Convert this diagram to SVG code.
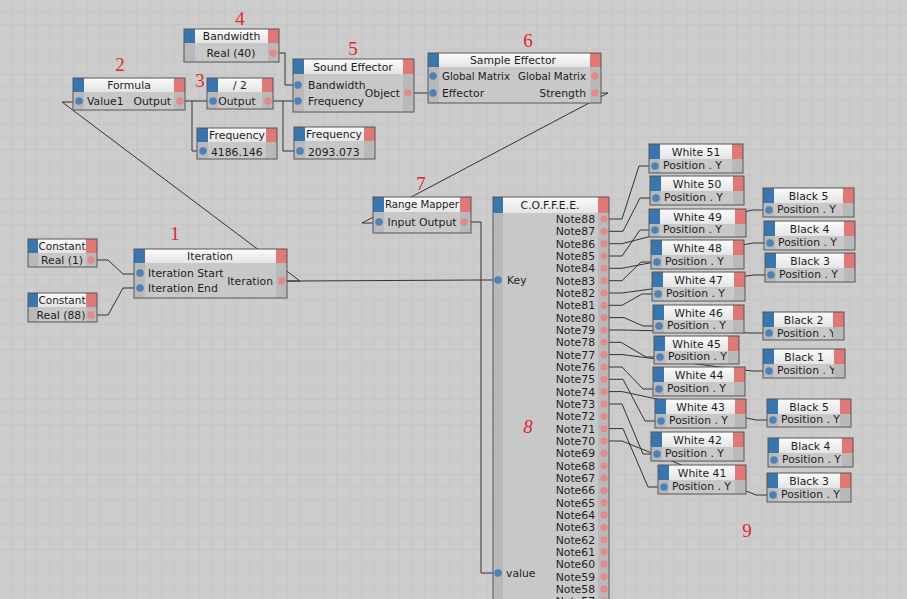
<svg xmlns="http://www.w3.org/2000/svg" width="907" height="599" viewBox="0 0 907 599">
<defs>
<pattern id="grid" width="12.5" height="12.5" patternUnits="userSpaceOnUse">
<rect width="12.5" height="12.5" fill="#cccccc"/>
<path d="M12.5 0V12.5M0 12.5H12.5" stroke="#c1c1c1" stroke-width="1" fill="none"/>
</pattern>
<linearGradient id="tg" x1="0" y1="0" x2="0" y2="1">
<stop offset="0" stop-color="#fbfbfb"/>
<stop offset="1" stop-color="#e4e4e4"/>
</linearGradient>
</defs>
<style>
.fr{fill:#c8c8c8}
.cl{fill:#b9b9b9}
.bl{fill:#3a76ae}
.tt{fill:url(#tg)}
.pk{fill:#e07876}
.ol{fill:none;stroke:#575757;stroke-width:1}
.pi{fill:#4b82b8}
.po{fill:#e38b89}
.tx{font-family:"DejaVu Sans",sans-serif;font-size:10.8px;fill:#1e1e1e}
.m{text-anchor:middle}
.e{text-anchor:end}
.w{fill:none;stroke:#333333;stroke-width:1}
.num{font-family:"Liberation Serif",serif;font-size:19px;fill:#e3262b;text-anchor:middle}
</style>
<rect width="907" height="599" fill="url(#grid)"/>

<g id="connectors">
<path class="w" d="M91,260 H108 L123,274 H140"/>
<path class="w" d="M91,315 H108 L123,288 H140"/>
<path class="w" d="M282,281 H300 L62,102 H79"/>
<path class="w" d="M282,281 H300 L480,280 H498"/>
<path class="w" d="M180,101 H213"/>
<path class="w" d="M192,101 V151 H203"/>
<path class="w" d="M268,101 H298"/>
<path class="w" d="M283,101 V151 H300"/>
<path class="w" d="M273,53 H285 V85 H298"/>
<path class="w" d="M408,93 H433"/>
<path class="w" d="M595,93 H608 L362,223 H379"/>
<path class="w" d="M464,222 H481 V573 H498"/>
<path class="w" d="M604,219 H622 L639,166 H655"/>
<path class="w" d="M604,231.3 H623 L640,198 H656"/>
<path class="w" d="M604,243.7 H622 L752,210 H769"/>
<path class="w" d="M604,256 H622 L640,230 H655"/>
<path class="w" d="M604,268.3 H622 L753,243 H770"/>
<path class="w" d="M604,280.7 H622 L641,262 H657"/>
<path class="w" d="M604,293 H622 L754,275 H771"/>
<path class="w" d="M604,305.3 H622 L642,294 H658"/>
<path class="w" d="M604,317.6 H624 L643,326 H659"/>
<path class="w" d="M604,330 H622 L752,333 H769"/>
<path class="w" d="M604,342.3 H621 L646,357 H660"/>
<path class="w" d="M604,354.6 H622 L752,371 H769"/>
<path class="w" d="M604,367 H622 L643,389 H659"/>
<path class="w" d="M604,379.3 H623 L645,421 H661"/>
<path class="w" d="M604,391.6 H622 L756,420 H773"/>
<path class="w" d="M604,404 H622 L643,454 H657"/>
<path class="w" d="M604,428.6 H623 L648,487 H664"/>
<path class="w" d="M604,441 H622 L756,495 H773"/>
</g>

<g id="bandwidth">
<rect class="fr" x="184" y="29" width="95" height="33"/>
<rect class="cl" x="184" y="43" width="11" height="19"/>
<rect class="cl" x="268" y="43" width="11" height="19"/>
<rect class="bl" x="184" y="29" width="11" height="14"/>
<rect class="tt" x="195" y="29" width="73" height="14"/>
<rect class="pk" x="268" y="29" width="11" height="14"/>
<text class="tx m" x="231.5" y="40">Bandwidth</text>
<text class="tx m" x="231" y="57">Real (40)</text>
<circle class="po" cx="273" cy="53" r="3.8"/>
<rect class="ol" x="184" y="29" width="95" height="33"/>
</g>

<g id="formula">
<rect class="fr" x="73" y="78" width="112" height="32"/>
<rect class="cl" x="73" y="92" width="11" height="18"/>
<text class="tx" x="87" y="105">Value1</text>
<text class="tx e" x="171" y="105">Output</text>
<rect class="cl" x="174" y="92" width="11" height="18"/>
<rect class="bl" x="73" y="78" width="11" height="14"/>
<rect class="tt" x="84" y="78" width="90" height="14"/>
<rect class="pk" x="174" y="78" width="11" height="14"/>
<text class="tx m" x="129" y="89">Formula</text>
<circle class="pi" cx="79" cy="101" r="3.8"/>
<circle class="po" cx="180" cy="101" r="3.8"/>
<rect class="ol" x="73" y="78" width="112" height="32"/>
</g>

<g id="div2">
<rect class="fr" x="207" y="78" width="66" height="31"/>
<rect class="cl" x="207" y="92" width="11" height="17"/>
<text class="tx m" x="237" y="105">Output</text>
<rect class="cl" x="262" y="92" width="11" height="17"/>
<rect class="bl" x="207" y="78" width="11" height="14"/>
<rect class="tt" x="218" y="78" width="44" height="14"/>
<rect class="pk" x="262" y="78" width="11" height="14"/>
<text class="tx m" x="240" y="89">/ 2</text>
<circle class="pi" cx="213" cy="101" r="3.8"/>
<circle class="po" cx="268" cy="101" r="3.8"/>
<rect class="ol" x="207" y="78" width="66" height="31"/>
</g>

<g id="sound-effector">
<rect class="fr" x="293" y="59" width="121" height="53"/>
<rect class="cl" x="293" y="74" width="11" height="38"/>
<text class="tx" x="308" y="89">Bandwidth</text>
<text class="tx" x="308" y="105">Frequency</text>
<text class="tx e" x="400" y="97">Object</text>
<rect class="cl" x="403" y="74" width="11" height="38"/>
<rect class="bl" x="293" y="59" width="11" height="15"/>
<rect class="tt" x="304" y="59" width="99" height="15"/>
<rect class="pk" x="403" y="59" width="11" height="15"/>
<text class="tx m" x="353" y="71">Sound Effector</text>
<circle class="pi" cx="298" cy="85" r="3.8"/>
<circle class="pi" cx="298" cy="101" r="3.8"/>
<circle class="po" cx="408" cy="93" r="3.8"/>
<rect class="ol" x="293" y="59" width="121" height="53"/>
</g>

<g id="sample-effector">
<rect class="fr" x="428" y="53" width="173" height="50"/>
<rect class="cl" x="428" y="67" width="11" height="36"/>
<text class="tx" x="442" y="80" textLength="68" lengthAdjust="spacingAndGlyphs">Global Matrix</text>
<text class="tx e" x="586" y="80" textLength="68" lengthAdjust="spacingAndGlyphs">Global Matrix</text>
<text class="tx" x="442" y="97">Effector</text>
<text class="tx e" x="586" y="97">Strength</text>
<rect class="cl" x="590" y="67" width="11" height="36"/>
<rect class="bl" x="428" y="53" width="11" height="14"/>
<rect class="tt" x="439" y="53" width="151" height="14"/>
<rect class="pk" x="590" y="53" width="11" height="14"/>
<text class="tx m" x="513" y="64">Sample Effector</text>
<circle class="pi" cx="433" cy="76" r="3.8"/>
<circle class="pi" cx="433" cy="93" r="3.8"/>
<circle class="po" cx="595" cy="76" r="3.8"/>
<circle class="po" cx="595" cy="93" r="3.8"/>
<rect class="ol" x="428" y="53" width="173" height="50"/>
</g>

<g id="frequency-1">
<rect class="fr" x="197" y="128" width="80" height="31"/>
<rect class="cl" x="197" y="142" width="11" height="17"/>
<text class="tx" x="211" y="156">4186.146</text>
<rect class="cl" x="266" y="142" width="11" height="17"/>
<rect class="bl" x="197" y="128" width="11" height="14"/>
<rect class="tt" x="208" y="128" width="58" height="14"/>
<rect class="pk" x="266" y="128" width="11" height="14"/>
<text class="tx m" x="237" y="139">Frequency</text>
<circle class="pi" cx="203" cy="151" r="3.8"/>
<rect class="ol" x="197" y="128" width="80" height="31"/>
</g>

<g id="frequency-2">
<rect class="fr" x="294" y="127" width="81" height="32"/>
<rect class="cl" x="294" y="141" width="11" height="18"/>
<text class="tx" x="308" y="156">2093.073</text>
<rect class="cl" x="364" y="141" width="11" height="18"/>
<rect class="bl" x="294" y="127" width="11" height="14"/>
<rect class="tt" x="305" y="127" width="59" height="14"/>
<rect class="pk" x="364" y="127" width="11" height="14"/>
<text class="tx m" x="334" y="138">Frequency</text>
<circle class="pi" cx="300" cy="151" r="3.8"/>
<rect class="ol" x="294" y="127" width="81" height="32"/>
</g>

<g id="constant-1">
<rect class="fr" x="28" y="239" width="69" height="28"/>
<rect class="cl" x="28" y="253" width="10" height="14"/>
<text class="tx m" x="62" y="264">Real (1)</text>
<rect class="cl" x="86" y="253" width="11" height="14"/>
<rect class="bl" x="28" y="239" width="10" height="14"/>
<rect class="tt" x="38" y="239" width="48" height="14"/>
<rect class="pk" x="86" y="239" width="11" height="14"/>
<text class="tx m" x="62" y="250" textLength="47" lengthAdjust="spacingAndGlyphs">Constant</text>
<circle class="po" cx="91" cy="260" r="3.8"/>
<rect class="ol" x="28" y="239" width="69" height="28"/>
</g>

<g id="constant-2">
<rect class="fr" x="28" y="293" width="69" height="29"/>
<rect class="cl" x="28" y="307" width="10" height="15"/>
<text class="tx m" x="61" y="319">Real (88)</text>
<rect class="cl" x="86" y="307" width="11" height="15"/>
<rect class="bl" x="28" y="293" width="10" height="14"/>
<rect class="tt" x="38" y="293" width="48" height="14"/>
<rect class="pk" x="86" y="293" width="11" height="14"/>
<text class="tx m" x="62" y="304" textLength="47" lengthAdjust="spacingAndGlyphs">Constant</text>
<circle class="po" cx="91" cy="315" r="3.8"/>
<rect class="ol" x="28" y="293" width="69" height="29"/>
</g>

<g id="iteration">
<rect class="fr" x="134" y="249" width="153" height="49"/>
<rect class="cl" x="134" y="263" width="11" height="35"/>
<text class="tx" x="148" y="277">Iteration Start</text>
<text class="tx" x="148" y="292">Iteration End</text>
<text class="tx e" x="273" y="285">Iteration</text>
<rect class="cl" x="276" y="263" width="11" height="35"/>
<rect class="bl" x="134" y="249" width="11" height="14"/>
<rect class="tt" x="145" y="249" width="131" height="14"/>
<rect class="pk" x="276" y="249" width="11" height="14"/>
<text class="tx m" x="210" y="260">Iteration</text>
<circle class="pi" cx="140" cy="273" r="3.8"/>
<circle class="pi" cx="140" cy="288" r="3.8"/>
<circle class="po" cx="282" cy="281" r="3.8"/>
<rect class="ol" x="134" y="249" width="153" height="49"/>
</g>

<g id="range-mapper">
<rect class="fr" x="373" y="197" width="98" height="36"/>
<rect class="cl" x="373" y="212" width="11" height="21"/>
<text class="tx m" x="422" y="226" textLength="69" lengthAdjust="spacingAndGlyphs">Input Output</text>
<rect class="cl" x="460" y="212" width="11" height="21"/>
<rect class="bl" x="373" y="197" width="11" height="15"/>
<rect class="tt" x="384" y="197" width="76" height="15"/>
<rect class="pk" x="460" y="197" width="11" height="15"/>
<text class="tx m" x="422" y="208" textLength="74" lengthAdjust="spacingAndGlyphs">Range Mapper</text>
<circle class="pi" cx="379" cy="222" r="3.8"/>
<circle class="po" cx="464" cy="222" r="3.8"/>
<rect class="ol" x="373" y="197" width="98" height="36"/>
</g>

<g id="coffee">
<rect class="fr" x="493" y="197" width="116" height="420"/>
<rect class="cl" x="493" y="213" width="10" height="404"/>
<text class="tx" x="507" y="284">Key</text>
<text class="tx" x="506" y="577">value</text>
<g class="tx e">
<text x="595" y="223">Note88</text>
<text x="595" y="235.3">Note87</text>
<text x="595" y="247.7">Note86</text>
<text x="595" y="260">Note85</text>
<text x="595" y="272.3">Note84</text>
<text x="595" y="284.7">Note83</text>
<text x="595" y="297">Note82</text>
<text x="595" y="309.3">Note81</text>
<text x="595" y="321.6">Note80</text>
<text x="595" y="334">Note79</text>
<text x="595" y="346.3">Note78</text>
<text x="595" y="358.6">Note77</text>
<text x="595" y="371">Note76</text>
<text x="595" y="383.3">Note75</text>
<text x="595" y="395.6">Note74</text>
<text x="595" y="408">Note73</text>
<text x="595" y="420.3">Note72</text>
<text x="595" y="432.6">Note71</text>
<text x="595" y="445">Note70</text>
<text x="595" y="457.3">Note69</text>
<text x="595" y="469.6">Note68</text>
<text x="595" y="481.9">Note67</text>
<text x="595" y="494.3">Note66</text>
<text x="595" y="506.6">Note65</text>
<text x="595" y="518.9">Note64</text>
<text x="595" y="531.3">Note63</text>
<text x="595" y="543.6">Note62</text>
<text x="595" y="555.9">Note61</text>
<text x="595" y="568.2">Note60</text>
<text x="595" y="580.6">Note59</text>
<text x="595" y="592.9">Note58</text>
<text x="595" y="605.2">Note57</text>
</g>
<rect class="cl" x="598" y="213" width="11" height="404"/>
<rect class="bl" x="493" y="197" width="10" height="16"/>
<rect class="tt" x="503" y="197" width="95" height="16"/>
<rect class="pk" x="598" y="197" width="11" height="16"/>
<text class="tx m" x="550" y="209">C.O.F.F.E.E.</text>
<circle class="pi" cx="498" cy="280" r="3.8"/>
<circle class="pi" cx="498" cy="573" r="3.8"/>
<g class="po">
<circle cx="604" cy="219" r="3.6"/>
<circle cx="604" cy="231.3" r="3.6"/>
<circle cx="604" cy="243.7" r="3.6"/>
<circle cx="604" cy="256" r="3.6"/>
<circle cx="604" cy="268.3" r="3.6"/>
<circle cx="604" cy="280.7" r="3.6"/>
<circle cx="604" cy="293" r="3.6"/>
<circle cx="604" cy="305.3" r="3.6"/>
<circle cx="604" cy="317.6" r="3.6"/>
<circle cx="604" cy="330" r="3.6"/>
<circle cx="604" cy="342.3" r="3.6"/>
<circle cx="604" cy="354.6" r="3.6"/>
<circle cx="604" cy="367" r="3.6"/>
<circle cx="604" cy="379.3" r="3.6"/>
<circle cx="604" cy="391.6" r="3.6"/>
<circle cx="604" cy="404" r="3.6"/>
<circle cx="604" cy="416.3" r="3.6"/>
<circle cx="604" cy="428.6" r="3.6"/>
<circle cx="604" cy="441" r="3.6"/>
<circle cx="604" cy="453.3" r="3.6"/>
<circle cx="604" cy="465.6" r="3.6"/>
<circle cx="604" cy="477.9" r="3.6"/>
<circle cx="604" cy="490.3" r="3.6"/>
<circle cx="604" cy="502.6" r="3.6"/>
<circle cx="604" cy="514.9" r="3.6"/>
<circle cx="604" cy="527.3" r="3.6"/>
<circle cx="604" cy="539.6" r="3.6"/>
<circle cx="604" cy="551.9" r="3.6"/>
<circle cx="604" cy="564.2" r="3.6"/>
<circle cx="604" cy="576.6" r="3.6"/>
<circle cx="604" cy="588.9" r="3.6"/>
<circle cx="604" cy="601.2" r="3.6"/>
</g>
<rect class="ol" x="493" y="197" width="116" height="420"/>
</g>

<g id="white-51">
<rect class="fr" x="649" y="144" width="94" height="29"/>
<rect class="cl" x="649" y="159" width="11" height="14"/>
<text class="tx" x="663" y="169">Position . Y</text>
<rect class="cl" x="732" y="159" width="11" height="14"/>
<rect class="bl" x="649" y="144" width="11" height="15"/>
<rect class="tt" x="660" y="144" width="72" height="15"/>
<rect class="pk" x="732" y="144" width="11" height="15"/>
<text class="tx m" x="696" y="156">White 51</text>
<circle class="pi" cx="655" cy="166" r="3.8"/>
<rect class="ol" x="649" y="144" width="94" height="29"/>
</g>

<g id="white-50">
<rect class="fr" x="650" y="176" width="94" height="29"/>
<rect class="cl" x="650" y="191" width="11" height="14"/>
<text class="tx" x="664" y="201">Position . Y</text>
<rect class="cl" x="733" y="191" width="11" height="14"/>
<rect class="bl" x="650" y="176" width="11" height="15"/>
<rect class="tt" x="661" y="176" width="72" height="15"/>
<rect class="pk" x="733" y="176" width="11" height="15"/>
<text class="tx m" x="697" y="188">White 50</text>
<circle class="pi" cx="656" cy="198" r="3.8"/>
<rect class="ol" x="650" y="176" width="94" height="29"/>
</g>

<g id="white-49">
<rect class="fr" x="649" y="209" width="97" height="28"/>
<rect class="cl" x="649" y="224" width="11" height="13"/>
<text class="tx" x="663" y="233">Position . Y</text>
<rect class="cl" x="735" y="224" width="11" height="13"/>
<rect class="bl" x="649" y="209" width="11" height="15"/>
<rect class="tt" x="660" y="209" width="75" height="15"/>
<rect class="pk" x="735" y="209" width="11" height="15"/>
<text class="tx m" x="697.5" y="221">White 49</text>
<circle class="pi" cx="655" cy="230" r="3.8"/>
<rect class="ol" x="649" y="209" width="97" height="28"/>
</g>

<g id="white-48">
<rect class="fr" x="651" y="240" width="93" height="29"/>
<rect class="cl" x="651" y="255" width="11" height="14"/>
<text class="tx" x="665" y="265">Position . Y</text>
<rect class="cl" x="733" y="255" width="11" height="14"/>
<rect class="bl" x="651" y="240" width="11" height="15"/>
<rect class="tt" x="662" y="240" width="71" height="15"/>
<rect class="pk" x="733" y="240" width="11" height="15"/>
<text class="tx m" x="697.5" y="252">White 48</text>
<circle class="pi" cx="657" cy="262" r="3.8"/>
<rect class="ol" x="651" y="240" width="93" height="29"/>
</g>

<g id="white-47">
<rect class="fr" x="652" y="272" width="93" height="29"/>
<rect class="cl" x="652" y="287" width="11" height="14"/>
<text class="tx" x="666" y="297">Position . Y</text>
<rect class="cl" x="734" y="287" width="11" height="14"/>
<rect class="bl" x="652" y="272" width="11" height="15"/>
<rect class="tt" x="663" y="272" width="71" height="15"/>
<rect class="pk" x="734" y="272" width="11" height="15"/>
<text class="tx m" x="698.5" y="284">White 47</text>
<circle class="pi" cx="658" cy="294" r="3.8"/>
<rect class="ol" x="652" y="272" width="93" height="29"/>
</g>

<g id="white-46">
<rect class="fr" x="653" y="305" width="91" height="28"/>
<rect class="cl" x="653" y="320" width="11" height="13"/>
<text class="tx" x="667" y="329">Position . Y</text>
<rect class="cl" x="733" y="320" width="11" height="13"/>
<rect class="bl" x="653" y="305" width="11" height="15"/>
<rect class="tt" x="664" y="305" width="69" height="15"/>
<rect class="pk" x="733" y="305" width="11" height="15"/>
<text class="tx m" x="698.5" y="317">White 46</text>
<circle class="pi" cx="659" cy="326" r="3.8"/>
<rect class="ol" x="653" y="305" width="91" height="28"/>
</g>

<g id="white-45">
<rect class="fr" x="654" y="336" width="85" height="28"/>
<rect class="cl" x="654" y="351" width="11" height="13"/>
<text class="tx" x="668" y="360">Position . Y</text>
<rect class="cl" x="728" y="351" width="11" height="13"/>
<rect class="bl" x="654" y="336" width="11" height="15"/>
<rect class="tt" x="665" y="336" width="63" height="15"/>
<rect class="pk" x="728" y="336" width="11" height="15"/>
<text class="tx m" x="696.5" y="348">White 45</text>
<circle class="pi" cx="660" cy="357" r="3.8"/>
<rect class="ol" x="654" y="336" width="85" height="28"/>
</g>

<g id="white-44">
<rect class="fr" x="653" y="367" width="92" height="29"/>
<rect class="cl" x="653" y="382" width="11" height="14"/>
<text class="tx" x="667" y="392">Position . Y</text>
<rect class="cl" x="734" y="382" width="11" height="14"/>
<rect class="bl" x="653" y="367" width="11" height="15"/>
<rect class="tt" x="664" y="367" width="70" height="15"/>
<rect class="pk" x="734" y="367" width="11" height="15"/>
<text class="tx m" x="699" y="379">White 44</text>
<circle class="pi" cx="659" cy="389" r="3.8"/>
<rect class="ol" x="653" y="367" width="92" height="29"/>
</g>

<g id="white-43">
<rect class="fr" x="655" y="399" width="91" height="29"/>
<rect class="cl" x="655" y="414" width="11" height="14"/>
<text class="tx" x="669" y="424">Position . Y</text>
<rect class="cl" x="735" y="414" width="11" height="14"/>
<rect class="bl" x="655" y="399" width="11" height="15"/>
<rect class="tt" x="666" y="399" width="69" height="15"/>
<rect class="pk" x="735" y="399" width="11" height="15"/>
<text class="tx m" x="700.5" y="411">White 43</text>
<circle class="pi" cx="661" cy="421" r="3.8"/>
<rect class="ol" x="655" y="399" width="91" height="29"/>
</g>

<g id="white-42">
<rect class="fr" x="651" y="432" width="93" height="29"/>
<rect class="cl" x="651" y="447" width="11" height="14"/>
<text class="tx" x="665" y="457">Position . Y</text>
<rect class="cl" x="733" y="447" width="11" height="14"/>
<rect class="bl" x="651" y="432" width="11" height="15"/>
<rect class="tt" x="662" y="432" width="71" height="15"/>
<rect class="pk" x="733" y="432" width="11" height="15"/>
<text class="tx m" x="697.5" y="444">White 42</text>
<circle class="pi" cx="657" cy="454" r="3.8"/>
<rect class="ol" x="651" y="432" width="93" height="29"/>
</g>

<g id="white-41">
<rect class="fr" x="658" y="465" width="88" height="29"/>
<rect class="cl" x="658" y="480" width="11" height="14"/>
<text class="tx" x="672" y="490">Position . Y</text>
<rect class="cl" x="735" y="480" width="11" height="14"/>
<rect class="bl" x="658" y="465" width="11" height="15"/>
<rect class="tt" x="669" y="465" width="66" height="15"/>
<rect class="pk" x="735" y="465" width="11" height="15"/>
<text class="tx m" x="702" y="477">White 41</text>
<circle class="pi" cx="664" cy="487" r="3.8"/>
<rect class="ol" x="658" y="465" width="88" height="29"/>
</g>

<g id="black-5a">
<rect class="fr" x="763" y="188" width="91" height="29"/>
<rect class="cl" x="763" y="203" width="11" height="14"/>
<text class="tx" x="777" y="213">Position . Y</text>
<rect class="cl" x="843" y="203" width="11" height="14"/>
<rect class="bl" x="763" y="188" width="11" height="15"/>
<rect class="tt" x="774" y="188" width="69" height="15"/>
<rect class="pk" x="843" y="188" width="11" height="15"/>
<text class="tx m" x="808.5" y="200">Black 5</text>
<circle class="pi" cx="769" cy="210" r="3.8"/>
<rect class="ol" x="763" y="188" width="91" height="29"/>
</g>

<g id="black-4a">
<rect class="fr" x="764" y="221" width="91" height="29"/>
<rect class="cl" x="764" y="236" width="11" height="14"/>
<text class="tx" x="778" y="246">Position . Y</text>
<rect class="cl" x="844" y="236" width="11" height="14"/>
<rect class="bl" x="764" y="221" width="11" height="15"/>
<rect class="tt" x="775" y="221" width="69" height="15"/>
<rect class="pk" x="844" y="221" width="11" height="15"/>
<text class="tx m" x="809.5" y="233">Black 4</text>
<circle class="pi" cx="770" cy="243" r="3.8"/>
<rect class="ol" x="764" y="221" width="91" height="29"/>
</g>

<g id="black-3a">
<rect class="fr" x="765" y="253" width="90" height="29"/>
<rect class="cl" x="765" y="268" width="11" height="14"/>
<text class="tx" x="779" y="278">Position . Y</text>
<rect class="cl" x="844" y="268" width="11" height="14"/>
<rect class="bl" x="765" y="253" width="11" height="15"/>
<rect class="tt" x="776" y="253" width="68" height="15"/>
<rect class="pk" x="844" y="253" width="11" height="15"/>
<text class="tx m" x="810" y="265">Black 3</text>
<circle class="pi" cx="771" cy="275" r="3.8"/>
<rect class="ol" x="765" y="253" width="90" height="29"/>
</g>

<g id="black-2">
<rect class="fr" x="763" y="312" width="81" height="28"/>
<rect class="cl" x="763" y="327" width="11" height="13"/>
<text class="tx" x="777" y="337">Position . Y</text>
<rect class="cl" x="833" y="327" width="11" height="13"/>
<rect class="bl" x="763" y="312" width="11" height="15"/>
<rect class="tt" x="774" y="312" width="59" height="15"/>
<rect class="pk" x="833" y="312" width="11" height="15"/>
<text class="tx m" x="803.5" y="324">Black 2</text>
<circle class="pi" cx="769" cy="333" r="3.8"/>
<rect class="ol" x="763" y="312" width="81" height="28"/>
</g>

<g id="black-1">
<rect class="fr" x="763" y="349" width="82" height="29"/>
<rect class="cl" x="763" y="364" width="11" height="14"/>
<text class="tx" x="777" y="374">Position . Y</text>
<rect class="cl" x="834" y="364" width="11" height="14"/>
<rect class="bl" x="763" y="349" width="11" height="15"/>
<rect class="tt" x="774" y="349" width="60" height="15"/>
<rect class="pk" x="834" y="349" width="11" height="15"/>
<text class="tx m" x="804" y="361">Black 1</text>
<circle class="pi" cx="769" cy="371" r="3.8"/>
<rect class="ol" x="763" y="349" width="82" height="29"/>
</g>

<g id="black-5b">
<rect class="fr" x="767" y="399" width="84" height="28"/>
<rect class="cl" x="767" y="414" width="11" height="13"/>
<text class="tx" x="781" y="423">Position . Y</text>
<rect class="cl" x="840" y="414" width="11" height="13"/>
<rect class="bl" x="767" y="399" width="11" height="15"/>
<rect class="tt" x="778" y="399" width="62" height="15"/>
<rect class="pk" x="840" y="399" width="11" height="15"/>
<text class="tx m" x="809" y="411">Black 5</text>
<circle class="pi" cx="773" cy="420" r="3.8"/>
<rect class="ol" x="767" y="399" width="84" height="28"/>
</g>

<g id="black-4b">
<rect class="fr" x="768" y="438" width="85" height="29"/>
<rect class="cl" x="768" y="453" width="11" height="14"/>
<text class="tx" x="782" y="463">Position . Y</text>
<rect class="cl" x="842" y="453" width="11" height="14"/>
<rect class="bl" x="768" y="438" width="11" height="15"/>
<rect class="tt" x="779" y="438" width="63" height="15"/>
<rect class="pk" x="842" y="438" width="11" height="15"/>
<text class="tx m" x="810.5" y="450">Black 4</text>
<circle class="pi" cx="774" cy="460" r="3.8"/>
<rect class="ol" x="768" y="438" width="85" height="29"/>
</g>

<g id="black-3b">
<rect class="fr" x="767" y="473" width="84" height="29"/>
<rect class="cl" x="767" y="488" width="11" height="14"/>
<text class="tx" x="781" y="498">Position . Y</text>
<rect class="cl" x="840" y="488" width="11" height="14"/>
<rect class="bl" x="767" y="473" width="11" height="15"/>
<rect class="tt" x="778" y="473" width="62" height="15"/>
<rect class="pk" x="840" y="473" width="11" height="15"/>
<text class="tx m" x="809" y="485">Black 3</text>
<circle class="pi" cx="773" cy="495" r="3.8"/>
<rect class="ol" x="767" y="473" width="84" height="29"/>
</g>

<g id="labels">
<text class="num" x="240" y="25">4</text>
<text class="num" x="120" y="71">2</text>
<text class="num" x="200" y="87">3</text>
<text class="num" x="353" y="55">5</text>
<text class="num" x="528" y="47">6</text>
<text class="num" x="175" y="240">1</text>
<text class="num" x="421" y="190">7</text>
<text class="num" x="528" y="433" font-style="italic">8</text>
<text class="num" x="747" y="537">9</text>
</g>
</svg>
